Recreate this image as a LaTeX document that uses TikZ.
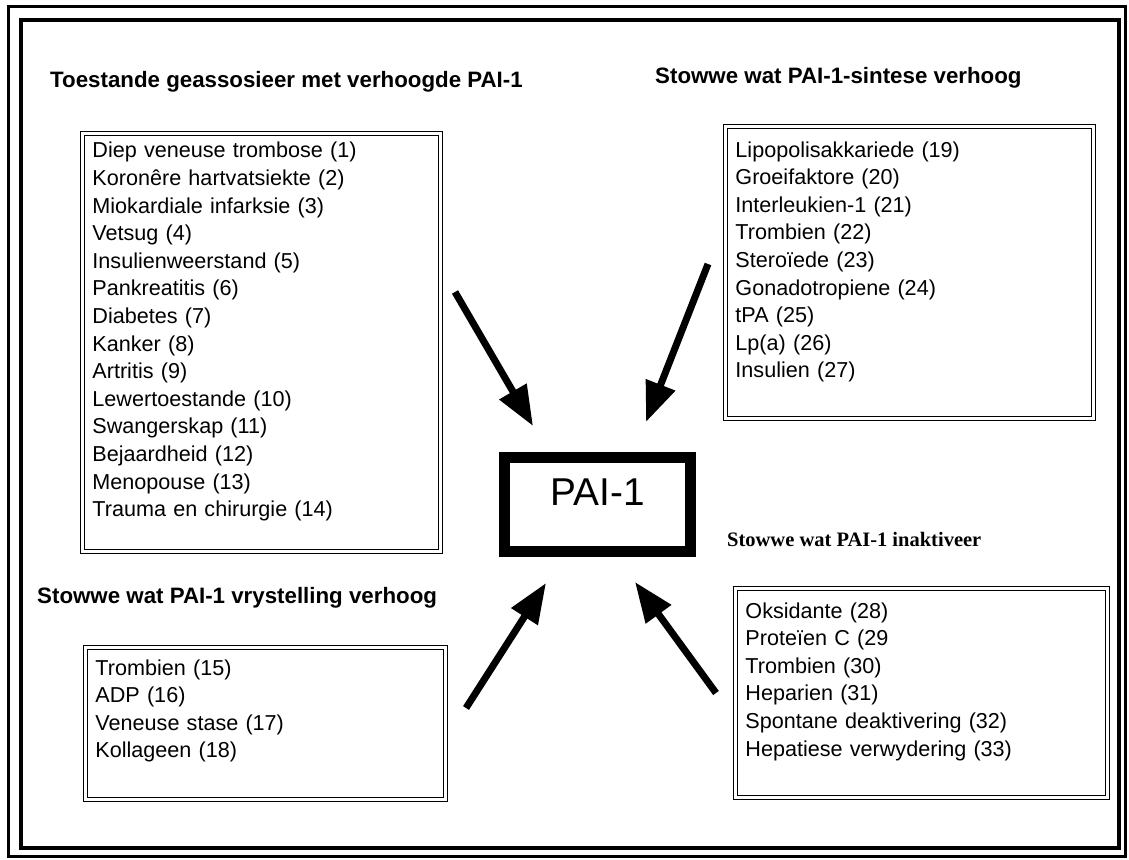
\documentclass[tikz,border=0pt]{standalone}
\usepackage{fontspec}
\setmainfont{Liberation Sans}
\newfontfamily\timesfont{Liberation Serif}
\usetikzlibrary{arrows.meta}
\tikzset{
	listbox/.style={draw, double, double distance=3pt, line width=0.9pt, anchor=north west, inner xsep=10pt, inner ysep=8pt, align=left, font=\fontsize{21.6}{27.6}\selectfont},
	heading/.style={anchor=base west, inner sep=0pt, font=\bfseries\fontsize{22.3}{26}\selectfont},
	% serif heading bottom right
	smallheading/.style={anchor=base west, inner sep=0pt, font=\timesfont\bfseries\fontsize{20.5}{24}\selectfont},
	centre/.style={draw, rectangle, line width=11pt, minimum width=186pt, minimum height=94pt, text depth=24pt, font=\fontsize{38.8}{44}\selectfont},
}

\begin{document}
\begin{tikzpicture}[x=1pt, y=-1pt]
	\useasboundingbox (0,0) rectangle (1129,859);
	
	% double frame
	\draw[line width=3pt] (8.5,6.7) rectangle (1125.5,856.5);
	\draw[line width=4pt] (20.5,20.5) rectangle (1119,848);
	
	\node (pai) [centre] at (597.5,504.5) {PAI-1};
	
	\node (h1) [heading] at (50,88) {Toestande geassosieer met verhoogde PAI-1};
	\node (c1) [listbox, text width=338pt, text height=16.5pt, text depth=385.5pt] at (82,133) {Diep veneuse trombose (1)\\ Koronêre hartvatsiekte (2)\\ Miokardiale infarksie (3)\\ Vetsug (4)\\ Insulienweerstand (5)\\ Pankreatitis (6)\\ Diabetes (7)\\ Kanker (8)\\ Artritis (9)\\ Lewertoestande (10)\\ Swangerskap (11)\\ Bejaardheid (12)\\ Menopouse (13)\\ Trauma en chirurgie (14)};
	
	\node (h2) [heading] at (655,84) {Stowwe wat PAI-1-sintese verhoog};
	\node (c2) [listbox, text width=348pt, text height=22.7pt, text depth=253.3pt] at (725,126) {Lipopolisakkariede (19)\\ Groeifaktore (20)\\ Interleukien-1 (21)\\ Trombien (22)\\ Steroïede (23)\\ Gonadotropiene (24)\\ tPA (25)\\ Lp(a) (26)\\ Insulien (27)};
	
	\node (h3) [heading] at (37,603) {Stowwe wat PAI-1 vrystelling verhoog};
	\node (c3) [listbox, text width=340pt, text height=19.7pt, text depth=116.3pt] at (85,647) {Trombien (15)\\ ADP (16)\\ Veneuse stase (17)\\ Kollageen (18)};
	
	\node (h4) [smallheading] at (727,546) {Stowwe wat PAI-1 inaktiveer};
	\node (c4) [listbox, text width=352pt, text height=21.7pt, text depth=171.3pt] at (735,588) {Oksidante (28)\\ Proteïen C (29\\ Trombien (30)\\ Heparien (31)\\ Spontane deaktivering (32)\\ Hepatiese verwydering (33)};
	
	\coordinate (a1) at (455,292);
	\coordinate (b1) at (533,426);
	\coordinate (a2) at (708,264);
	\coordinate (b2) at (646,422);
	\coordinate (a3) at (466,708);
	\coordinate (b3) at (546,583);
	\coordinate (a4) at (716,693);
	\coordinate (b4) at (635,582);
	
	\begin{scope}[line width=7pt, black, ->, >={Triangle[length=40pt, width=30pt]}]
		\draw (a1) -- (b1);
		\draw (a2) -- (b2);
		\draw (a3) -- (b3);
		\draw (a4) -- (b4);
	\end{scope}
	
\end{tikzpicture}
\end{document}
